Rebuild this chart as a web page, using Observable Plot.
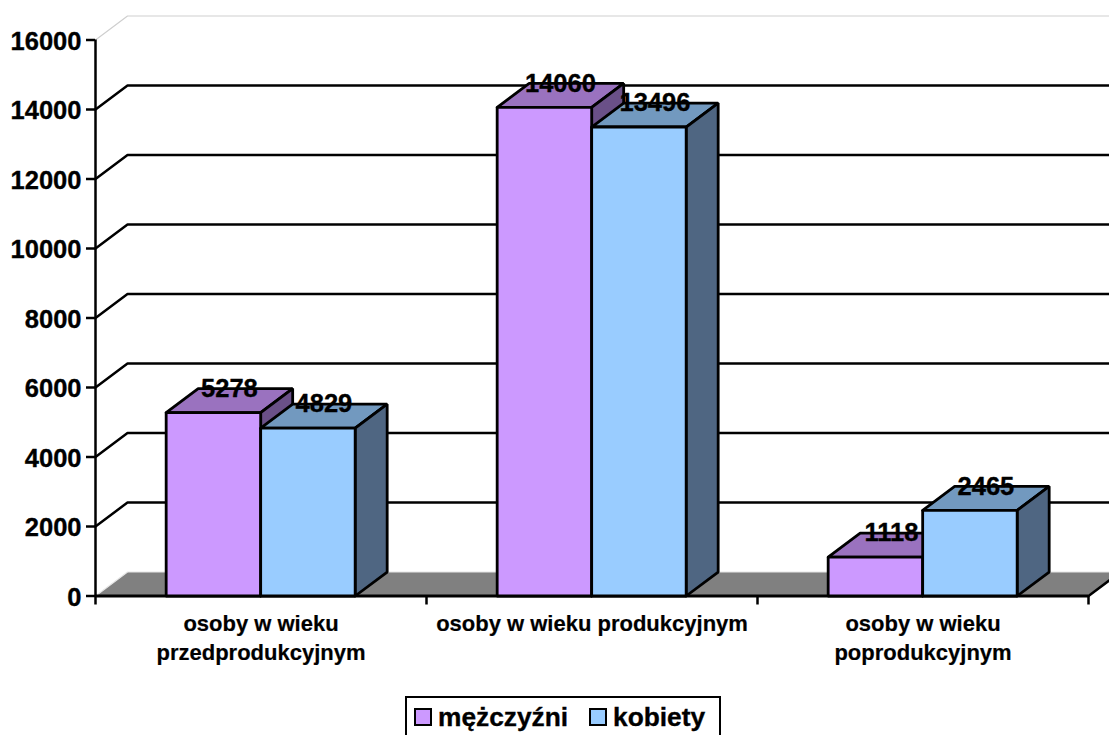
<!DOCTYPE html>
<html lang="pl">
<head>
<meta charset="utf-8">
<script src="https://cdn.jsdelivr.net/npm/d3@7"></script>
<script src="https://cdn.jsdelivr.net/npm/@observablehq/plot@0.6"></script>
<style>
html,body{margin:0;padding:0;background:#fff;width:1109px;height:735px;overflow:hidden;font-family:"Liberation Sans",Arial,sans-serif;}
#chart{position:absolute;left:0;top:0;}
#legend{position:absolute;left:405px;top:695.5px;width:312px;height:60px;border:2.5px solid #000;background:#fff;font-weight:bold;font-size:26.3px;color:#000;-webkit-text-stroke:0.35px #000;}
#legend i{position:absolute;top:10px;width:14px;height:14px;border:2.5px solid #000;}
#legend span{position:absolute;top:5px;line-height:28px;white-space:nowrap;}
</style>
</head>
<body>
<div id="chart"></div>
<div id="legend"></div>
<script>
const categories = ["osoby w wieku\nprzedprodukcyjnym", "osoby w wieku produkcyjnym", "osoby w wieku\npoprodukcyjnym"];
const seriesNames = ["mężczyźni", "kobiety"];
const men = [5278, 14060, 1118];
const women = [4829, 13496, 2465];
const yTicks = [0, 2000, 4000, 6000, 8000, 10000, 12000, 14000, 16000];
const xTicks = [0, 1, 2, 3];
const frontColors = ["#CC99FF", "#99CCFF"];
const topColors = ["#9A72BF", "#7299BF"];
const sideColors = ["#6A5088", "#4F6682"];

const depthX = 0.0967, depthY = 690, barW = 0.2855, barStart = 0.2135;
const values = [men, women];

const faces = [];
const labels = [];
categories.forEach((c, i) => {
  seriesNames.forEach((s, k) => {
    const v = values[k][i];
    const x0 = i + barStart + k * barW, x1 = x0 + barW;
    const poly = (name, fill, pts) => pts.forEach(([x, y]) => faces.push({id: `${i}-${k}-${name}`, fill, x, y}));
    poly("top", topColors[k], [[x0, v], [x0 + depthX, v + depthY], [x1 + depthX, v + depthY], [x1, v], [x0, v]]);
    poly("side", sideColors[k], [[x1, 0], [x1 + depthX, depthY], [x1 + depthX, v + depthY], [x1, v], [x1, 0]]);
    poly("front", frontColors[k], [[x0, 0], [x1, 0], [x1, v], [x0, v], [x0, 0]]);
    labels.push({x: (x0 + x1 + depthX) / 2, y: v + depthY, text: String(v)});
  });
});

const gridPath = t => [[0, t], [depthX, t + depthY], [3 + depthX, t + depthY]].map(([x, y]) => ({t, x, y}));
const grid = yTicks.filter(t => t > 0 && t < 16000).flatMap(gridPath);
const wall = gridPath(16000);
const floor = [[0, 0], [depthX, depthY], [3 + depthX, depthY], [3, 0], [0, 0]].map(([x, y]) => ({x, y}));
const floorEdge = floor.slice(0, 3);
const floorRight = [[3, 0], [3 + depthX, depthY]].map(([x, y]) => ({x, y}));

const font = '"Liberation Sans", Arial, sans-serif';
const heavy = {fill: "#000", stroke: "#000", strokeWidth: 0.35, fontWeight: "bold"};
const chart = Plot.plot({
  width: 1109,
  height: 735,
  marginLeft: 95,
  marginRight: 21,
  marginTop: 39.5,
  marginBottom: 139.5,
  style: {background: "transparent", fontFamily: font},
  x: {domain: [0, 3], axis: null},
  y: {domain: [0, 16000], axis: null},
  color: {type: "identity"},
  marks: [
    Plot.line(wall, {x: "x", y: "y", stroke: "#cfcfcf", strokeWidth: 1.2}),
    Plot.line(grid, {x: "x", y: "y", z: "t", stroke: "#000", strokeWidth: 2.5}),
    Plot.line(floor, {x: "x", y: "y", fill: "#808080", stroke: "none"}),
    Plot.line(floorEdge, {x: "x", y: "y", stroke: "#e6e6e6", strokeWidth: 1.2}),
    Plot.line(floorRight, {x: "x", y: "y", stroke: "#000", strokeWidth: 2.5}),
    Plot.ruleY([0], {stroke: "#000", strokeWidth: 2.8}),
    Plot.ruleX([0], {stroke: "#000", strokeWidth: 2.5}),
    Plot.axisX({ticks: xTicks, tickSize: 9, tickFormat: () => "", strokeWidth: 2.5, stroke: "#000", label: null}),
    Plot.axisY({ticks: yTicks, tickSize: 9, tickFormat: () => "", strokeWidth: 2.5, stroke: "#000", label: null}),
    Plot.text(yTicks, {x: () => 0, y: d => d, text: d => String(d), textAnchor: "end", dx: -14, dy: 1.5, fontSize: 25.5, ...heavy}),
    Plot.line(faces, {x: "x", y: "y", z: "id", fill: "fill", stroke: "#000", strokeWidth: 2.8, strokeLinejoin: "miter"}),
    Plot.text(labels, {x: "x", y: "y", text: "text", fontSize: 25.5, ...heavy}),
    Plot.text(categories, {x: (d, i) => i + 0.5, y: () => 0, text: d => d, textAnchor: "middle", lineAnchor: "top", dy: 14, lineHeight: 1.32,
      fontSize: 22, ...heavy, strokeWidth: 0.2})
  ]
});
document.getElementById("chart").append(chart);

const legend = document.getElementById("legend");
const pos = [{sw: 6.5, tx: 31}, {sw: 181.5, tx: 206}];
seriesNames.forEach((s, k) => {
  const sw = document.createElement("i");
  sw.style.left = pos[k].sw + "px";
  sw.style.background = frontColors[k];
  const t = document.createElement("span");
  t.style.left = pos[k].tx + "px";
  t.textContent = s;
  legend.append(sw, t);
});
</script>
</body>
</html>
